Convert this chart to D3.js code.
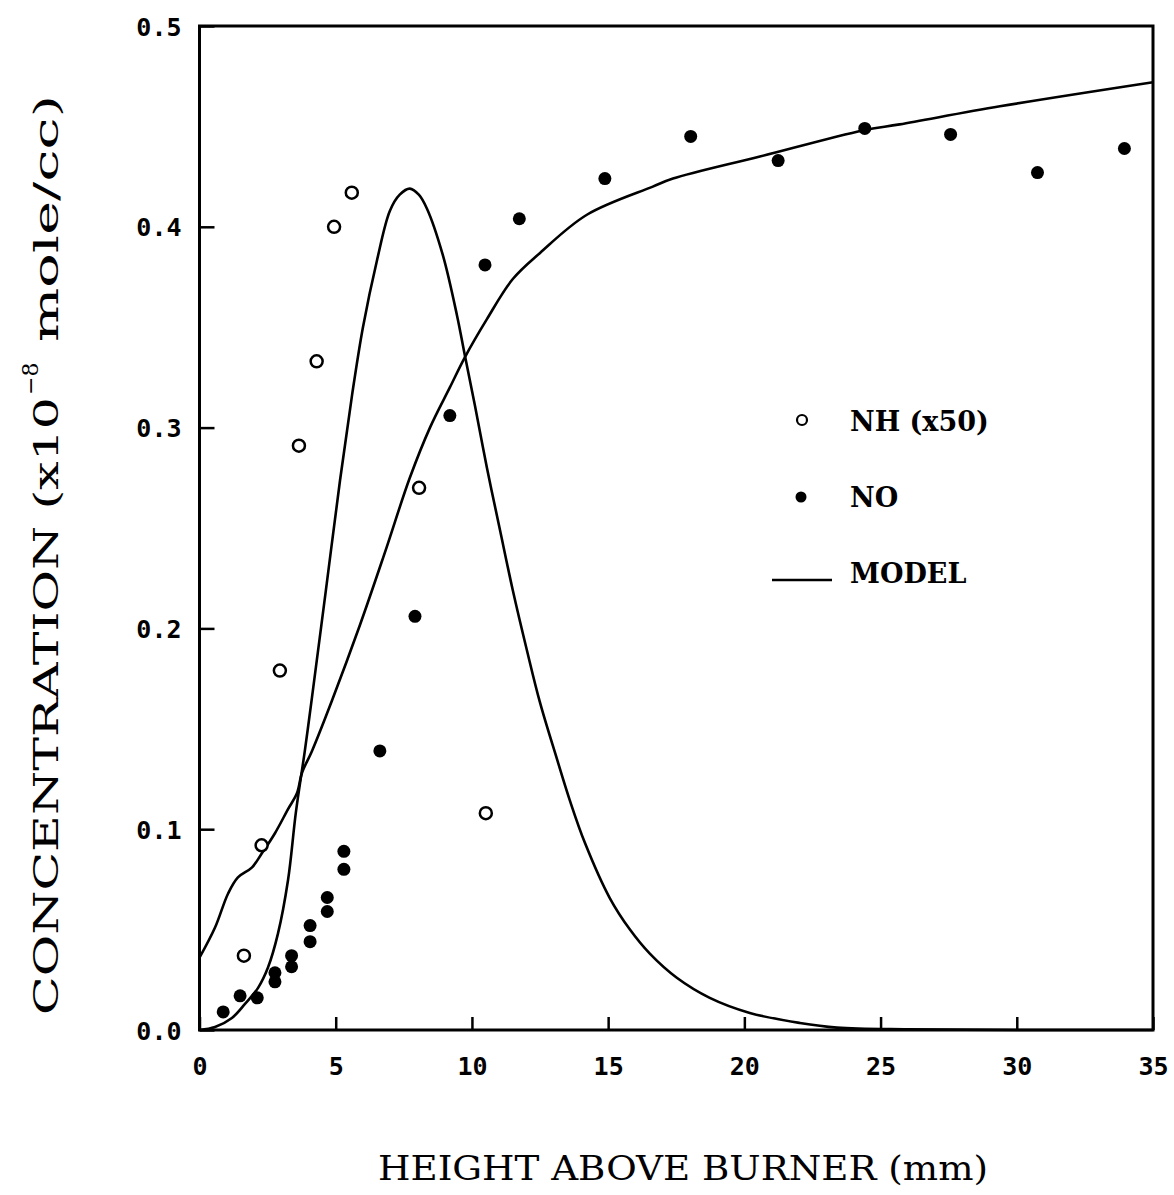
<!DOCTYPE html>
<html>
<head>
<meta charset="utf-8">
<script src="https://cdn.jsdelivr.net/npm/d3@7"></script>
<style>
  html, body { margin: 0; padding: 0; background: #fff; }
  svg { display: block; }
</style>
</head>
<body>
<svg id="chart" width="1174" height="1195"></svg>
<script>
// ---- data ----
const xTicks = [0, 5, 10, 15, 20, 25, 30, 35];
const yTicks = [0.0, 0.1, 0.2, 0.3, 0.4, 0.5];

// NH (x50) measured, open circles
const nhX = [1.63, 2.28, 2.95, 3.65, 4.30, 4.94, 5.59, 8.06, 10.51];
const nhY = [0.037, 0.092, 0.179, 0.291, 0.333, 0.400, 0.417, 0.270, 0.108];

// NO measured, filled circles
const noX = [0.87, 1.49, 2.12, 2.77, 2.77, 3.38, 3.38, 4.06, 4.06, 4.69, 4.69, 5.30, 5.30, 6.62, 7.91, 9.19, 10.48, 11.74, 14.88, 18.03, 21.24, 24.42, 27.57, 30.76, 33.95];
const noY = [0.009, 0.017, 0.016, 0.0285, 0.024, 0.037, 0.0315, 0.052, 0.044, 0.066, 0.059, 0.089, 0.080, 0.139, 0.206, 0.306, 0.381, 0.404, 0.424, 0.445, 0.433, 0.449, 0.446, 0.427, 0.439];

// NO model curve
const noModelX = [0, 0.57, 1.05, 1.41, 1.93, 2.29, 2.77, 3.25, 3.58, 3.76, 4.13, 4.86, 5.89, 6.81, 7.72, 8.46, 9.19, 9.74, 10.55, 11.50, 12.50, 14.22, 16.64, 17.38, 20.57, 24.35, 25.70, 29.38, 35];
const noModelY = [0.036, 0.051, 0.068, 0.076, 0.081, 0.088, 0.098, 0.110, 0.118, 0.128, 0.139, 0.164, 0.2017, 0.238, 0.275, 0.300, 0.320, 0.335, 0.354, 0.374, 0.387, 0.406, 0.420, 0.424, 0.435, 0.448, 0.451, 0.460, 0.472];

// NH model curve
const nhModelX = [0, 0.57, 1.19, 1.67, 2.15, 2.51, 2.88, 3.25, 3.54, 3.87, 4.13, 4.64, 5.16, 5.60, 6.00, 6.51, 6.99, 7.35, 7.72, 8.05, 8.35, 8.93, 9.45, 9.74, 10.11, 10.55, 11.03, 11.50, 12.02, 12.50, 13.12, 13.59, 14.15, 15.06, 15.80, 16.53, 17.52, 18.73, 20.20, 22.04, 23.40, 26.0, 30.0, 35.0];
const nhModelY = [0.000, 0.0015, 0.006, 0.013, 0.021, 0.031, 0.048, 0.0747, 0.1086, 0.1394, 0.1658, 0.2191, 0.2739, 0.3162, 0.350, 0.383, 0.408, 0.416, 0.419, 0.416, 0.409, 0.386, 0.356, 0.336, 0.311, 0.280, 0.249, 0.219, 0.189, 0.163, 0.135, 0.1145, 0.0931, 0.0657, 0.050, 0.038, 0.026, 0.016, 0.0085, 0.0035, 0.0012, 0.0003, 0.0, 0.0];

const legendLabels = ["NH (x50)", "NO", "MODEL"];
const xTitle = "HEIGHT ABOVE BURNER (mm)";

// ---- chart ----
const svg = d3.select("#chart");
const x = d3.scaleLinear().domain([0, 35]).range([199.5, 1153]);
const y = d3.scaleLinear().domain([0, 0.5]).range([1030, 26]);

const tickFont = "'DejaVu Sans Mono', monospace";
const serif = "'DejaVu Serif', serif";

// curves
const line = d3.line().x(d => x(d[0])).y(d => Math.min(y(d[1]), y(0))).curve(d3.curveCatmullRom.alpha(0.5));
const noModel = noModelX.map((v, i) => [v, noModelY[i]]);
const nhModel = nhModelX.map((v, i) => [v, nhModelY[i]]);

svg.append("path").datum(noModel).attr("d", line)
  .attr("fill", "none").attr("stroke", "#000").attr("stroke-width", 2.6);
svg.append("path").datum(nhModel).attr("d", line)
  .attr("fill", "none").attr("stroke", "#000").attr("stroke-width", 2.6);

// axes
const xAxis = d3.axisBottom(x).tickValues(xTicks).tickSize(-13).tickPadding(22)
  .tickFormat(d3.format("d"));
const gx = svg.append("g").attr("transform", `translate(0,${y(0)})`).call(xAxis);
gx.select(".domain").remove();
gx.selectAll(".tick line").attr("stroke", "#000").attr("stroke-width", 2.5);
gx.selectAll(".tick text").attr("font-family", tickFont).attr("font-weight", "bold")
  .attr("font-size", 25).attr("fill", "#000").attr("dy", "0.35em")
  .attr("y", 36);

const yAxis = d3.axisLeft(y).tickValues(yTicks).tickSize(-15).tickPadding(18)
  .tickFormat(d3.format(".1f"));
const gy = svg.append("g").attr("transform", `translate(${x(0)},0)`).call(yAxis);
gy.select(".domain").remove();
gy.selectAll(".tick line").attr("stroke", "#000").attr("stroke-width", 2.5);
gy.selectAll(".tick text").attr("font-family", tickFont).attr("font-weight", "bold")
  .attr("font-size", 25).attr("fill", "#000").attr("dy", "0.36em");

// frame
svg.append("rect")
  .attr("x", x(0)).attr("y", y(0.5))
  .attr("width", x(35) - x(0)).attr("height", y(0) - y(0.5))
  .attr("fill", "none").attr("stroke", "#000").attr("stroke-width", 3);

// NH points (open)
svg.append("g").selectAll("circle").data(nhX.map((v, i) => [v, nhY[i]])).join("circle")
  .attr("cx", d => x(d[0])).attr("cy", d => y(d[1])).attr("r", 6)
  .attr("fill", "#fff").attr("stroke", "#000").attr("stroke-width", 2.5);

// NO points (filled)
svg.append("g").selectAll("circle").data(noX.map((v, i) => [v, noY[i]])).join("circle")
  .attr("cx", d => x(d[0])).attr("cy", d => y(d[1])).attr("r", 6.5)
  .attr("fill", "#000");

// legend
const lg = svg.append("g");
lg.append("circle").attr("cx", 802).attr("cy", 420).attr("r", 5)
  .attr("fill", "#fff").attr("stroke", "#000").attr("stroke-width", 2.2);
lg.append("circle").attr("cx", 801).attr("cy", 497).attr("r", 5.5).attr("fill", "#000");
lg.append("line").attr("x1", 772).attr("x2", 832).attr("y1", 580).attr("y2", 580)
  .attr("stroke", "#000").attr("stroke-width", 2.5);
const legY = [431, 507, 583];
lg.selectAll("text").data(legendLabels).join("text")
  .attr("x", 850).attr("y", (d, i) => legY[i])
  .attr("font-family", serif).attr("font-weight", "bold").attr("font-size", 27)
  .attr("fill", "#000").text(d => d);

// x title
svg.append("text").attr("x", 378).attr("y", 1180)
  .attr("font-family", serif).attr("font-size", 34).attr("fill", "#000")
  .attr("textLength", 610).attr("lengthAdjust", "spacingAndGlyphs")
  .text(xTitle);

// y title (rotated)
const yt = svg.append("g").attr("transform", "translate(58,0) rotate(-90)");
yt.append("text").attr("x", -1015).attr("y", 0)
  .attr("font-family", serif).attr("font-size", 34).attr("fill", "#000")
  .attr("textLength", 618).attr("lengthAdjust", "spacingAndGlyphs")
  .text("CONCENTRATION (x10");
yt.append("text").attr("x", -395).attr("y", -20)
  .attr("font-family", serif).attr("font-size", 22).attr("fill", "#000")
  .text("\u22128");
yt.append("text").attr("x", -342).attr("y", 0)
  .attr("font-family", serif).attr("font-size", 34).attr("fill", "#000")
  .attr("textLength", 247).attr("lengthAdjust", "spacingAndGlyphs")
  .text("mole/cc)");
</script>
</body>
</html>
